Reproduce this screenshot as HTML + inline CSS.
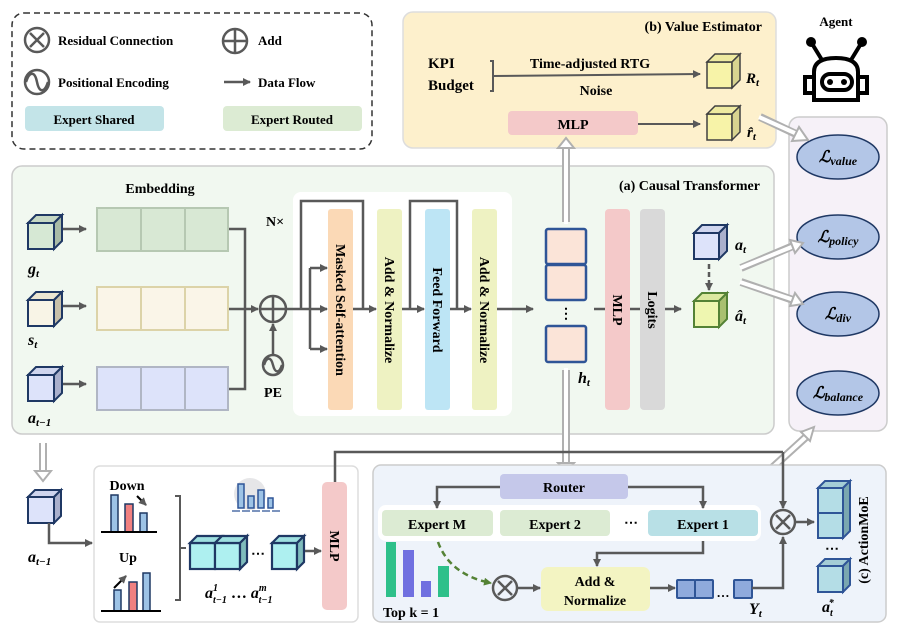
<!DOCTYPE html>
<html><head><meta charset="utf-8"><style>
body{margin:0;background:#fff}
svg{display:block;font-family:"Liberation Serif",serif;font-weight:bold}
</style></head><body>
<svg width="897" height="633" viewBox="0 0 897 633" xmlns="http://www.w3.org/2000/svg">
<defs>
<marker id="ah" markerWidth="8" markerHeight="8" refX="7" refY="4" orient="auto" markerUnits="userSpaceOnUse"><path d="M0,0 L8,4 L0,8 z" fill="#595959"/></marker>
<marker id="ahg" markerWidth="8" markerHeight="8" refX="7" refY="4" orient="auto" markerUnits="userSpaceOnUse"><path d="M0,0 L8,4 L0,8 z" fill="#548235"/></marker>
</defs>
<g font-size="13">
<!-- Legend -->
<rect x="12" y="13" width="360" height="136" rx="12" fill="none" stroke="#333" stroke-width="1.5" stroke-dasharray="6,4"/>
<circle cx="37" cy="40" r="12" fill="none" stroke="#595959" stroke-width="2.5"/><path d="M30,33 L44,47 M44,33 L30,47" stroke="#595959" stroke-width="2.5"/>
<text x="58" y="45">Residual Connection</text>
<circle cx="235" cy="41" r="12" fill="none" stroke="#595959" stroke-width="2.5"/><path d="M223,41 H247 M235,29 V53" stroke="#595959" stroke-width="2.5"/>
<text x="258" y="45">Add</text>
<circle cx="37" cy="82" r="12" fill="none" stroke="#595959" stroke-width="2.5"/><path d="M26,82 C30,70 35,72 37,82 C39,92 44,94 48,82" fill="none" stroke="#595959" stroke-width="2.5"/>
<text x="58" y="87">Positional Encoding</text>
<line x1="224" y1="82" x2="250" y2="82" stroke="#595959" stroke-width="2.5" marker-end="url(#ah)"/>
<text x="258" y="87">Data Flow</text>
<rect x="25" y="106" width="139" height="25" rx="4" fill="#c3e4e8"/><text x="94" y="124" text-anchor="middle">Expert Shared</text>
<rect x="223" y="106" width="139" height="25" rx="4" fill="#dcebd3"/><text x="292" y="124" text-anchor="middle">Expert Routed</text>

<!-- Value estimator -->
<rect x="403" y="12" width="373" height="136" rx="10" fill="#fdf0cc" stroke="#ddd" stroke-width="1.5"/>
<text x="762" y="31" text-anchor="end" font-size="14">(b) Value Estimator</text>
<text x="428" y="68" font-size="15">KPI</text><text x="428" y="90" font-size="15">Budget</text>
<path d="M490,61 H493 V91 H490" fill="none" stroke="#595959" stroke-width="2"/>
<line x1="493" y1="76" x2="700" y2="74" stroke="#595959" stroke-width="2" marker-end="url(#ah)"/>
<text x="590" y="68" text-anchor="middle" font-size="14">Time-adjusted RTG</text>
<text x="596" y="95" text-anchor="middle" font-size="14">Noise</text>
<g transform="translate(707,54)" stroke="#404040" stroke-width="1.5" fill="#f7f3a8"><rect x="0" y="8" width="25" height="26"/><path d="M0,8 L8,0 L33,0 L25,8z" fill="#eeeaa0"/><path d="M25,8 L33,0 L33,26 L25,34z" fill="#d8d490"/></g>
<text x="746" y="83" font-style="italic" font-size="15">R<tspan font-size="11" dy="3">t</tspan></text>
<rect x="508" y="111" width="130" height="24" rx="4" fill="#f4c9c9"/><text x="573" y="129" text-anchor="middle" font-size="14">MLP</text>
<line x1="638" y1="124" x2="700" y2="124" stroke="#595959" stroke-width="2" marker-end="url(#ah)"/>
<g transform="translate(707,106)" stroke="#404040" stroke-width="1.5" fill="#f7f3a8"><rect x="0" y="8" width="25" height="26"/><path d="M0,8 L8,0 L33,0 L25,8z" fill="#eeeaa0"/><path d="M25,8 L33,0 L33,26 L25,34z" fill="#d8d490"/></g>
<text x="747" y="137" font-style="italic" font-size="15">r̂<tspan font-size="11" dy="3">t</tspan></text>

<!-- Agent -->
<text x="836" y="26" text-anchor="middle" font-size="13">Agent</text>
<g fill="none" stroke="#000" stroke-width="4">
<circle cx="811" cy="42" r="3" fill="#000"/><circle cx="862" cy="42" r="3" fill="#000"/>
<path d="M811,42 L822,60 M862,42 L851,60"/>
<path d="M814,100 V72 Q814,58 836,58 Q858,58 858,72 V100 Z"/>
<rect x="805" y="77" width="9" height="16"/><rect x="858" y="77" width="9" height="16"/>
<rect x="822" y="74" width="30" height="16" rx="8"/>
</g>
<circle cx="830" cy="82" r="3" fill="#000"/><circle cx="844" cy="82" r="3" fill="#000"/>

<!-- Loss panel -->
<rect x="789" y="117" width="98" height="314" rx="10" fill="#f6f1f8" stroke="#ccc" stroke-width="1.5"/>
<g fill="#b3c6e7" stroke="#1f3864" stroke-width="1.5">
<ellipse cx="838" cy="157" rx="41" ry="22"/><ellipse cx="838" cy="237" rx="41" ry="22"/><ellipse cx="838" cy="314" rx="41" ry="22"/><ellipse cx="838" cy="393" rx="41" ry="22"/></g>
<g font-style="italic" font-size="16" text-anchor="middle">
<text x="838" y="162">ℒ<tspan font-size="12" dy="3">value</tspan></text>
<text x="838" y="242">ℒ<tspan font-size="12" dy="3">policy</tspan></text>
<text x="838" y="319">ℒ<tspan font-size="12" dy="3">div</tspan></text>
<text x="838" y="398">ℒ<tspan font-size="12" dy="3">balance</tspan></text>
</g>

<!-- Causal transformer panel -->
<rect x="12" y="166" width="762" height="268" rx="10" fill="#f1f8f0" stroke="#ccc" stroke-width="1.5"/>
<text x="160" y="193" text-anchor="middle" font-size="14">Embedding</text>
<text x="760" y="190" text-anchor="end" font-size="14">(a) Causal  Transformer</text>
<text x="275" y="226" text-anchor="middle" font-size="14">N×</text>
<!-- input cubes -->
<g stroke="#1f3864" stroke-width="2">
<g transform="translate(28,215)"><rect x="0" y="8" width="26" height="26" fill="#d6e8d4"/><path d="M0,8 L8,0 L34,0 L26,8z" fill="#c6d8c4"/><path d="M26,8 L34,0 L34,26 L26,34z" fill="#a9bba7"/></g>
<g transform="translate(28,292)"><rect x="0" y="8" width="26" height="26" fill="#f8f4e6"/><path d="M0,8 L8,0 L34,0 L26,8z" fill="#ece6d2"/><path d="M26,8 L34,0 L34,26 L26,34z" fill="#c8c0aa"/></g>
<g transform="translate(28,367)"><rect x="0" y="8" width="26" height="26" fill="#dde3fa"/><path d="M0,8 L8,0 L34,0 L26,8z" fill="#cfd5ee"/><path d="M26,8 L34,0 L34,26 L26,34z" fill="#aab0cc"/></g>
</g>
<g stroke="#595959" stroke-width="2.5">
<line x1="63" y1="229" x2="86" y2="229" marker-end="url(#ah)"/>
<line x1="63" y1="306" x2="86" y2="306" marker-end="url(#ah)"/>
<line x1="63" y1="384" x2="86" y2="384" marker-end="url(#ah)"/>
</g>
<g font-style="italic" font-size="16"><text x="28" y="274">g<tspan font-size="11" dy="3">t</tspan></text><text x="28" y="345">s<tspan font-size="11" dy="3">t</tspan></text><text x="28" y="423">a<tspan font-size="11" dy="3">t−1</tspan></text></g>
<!-- embedding rows -->
<g stroke-width="2">
<g stroke="#b6c8b2" fill="#d8e8d4"><rect x="97" y="208" width="44" height="43"/><rect x="141" y="208" width="44" height="43"/><rect x="185" y="208" width="43" height="43"/></g>
<g stroke="#dcd3a8" fill="#faf5e8"><rect x="97" y="287" width="44" height="43"/><rect x="141" y="287" width="44" height="43"/><rect x="185" y="287" width="43" height="43"/></g>
<g stroke="#b0b6c4" fill="#dde3fa"><rect x="97" y="367" width="44" height="43"/><rect x="141" y="367" width="44" height="43"/><rect x="185" y="367" width="43" height="43"/></g>
</g>
<g fill="none" stroke="#595959" stroke-width="2.5">
<path d="M229,229 H245 V389 H229"/>
<line x1="229" y1="309" x2="258" y2="309" marker-end="url(#ah)"/>
<circle cx="273" cy="309" r="13"/><path d="M260,309 H286 M273,296 V322"/>
<line x1="273" y1="355" x2="273" y2="324" marker-end="url(#ah)"/>
<circle cx="273" cy="365" r="10"/><path d="M264,365 C267,356 271,357 273,365 C275,373 279,374 282,365"/>
</g>
<text x="273" y="397" text-anchor="middle" font-size="14">PE</text>
<!-- white block -->
<rect x="293" y="192" width="219" height="224" rx="8" fill="#fff"/>
<rect x="328" y="209" width="25" height="201" rx="3" fill="#fbd9b6"/>
<rect x="377" y="209" width="25" height="201" rx="3" fill="#eef2c2"/>
<rect x="425" y="209" width="25" height="201" rx="3" fill="#bde5f5"/>
<rect x="472" y="209" width="25" height="201" rx="3" fill="#eef2c2"/>
<g font-size="14">
<text transform="translate(336,310) rotate(90)" text-anchor="middle">Masked Self-attention</text>
<text transform="translate(385,310) rotate(90)" text-anchor="middle">Add &amp; Normalize</text>
<text transform="translate(433,310) rotate(90)" text-anchor="middle">Feed Forward</text>
<text transform="translate(480,310) rotate(90)" text-anchor="middle">Add &amp; Normalize</text>
</g>
<g fill="none" stroke="#595959" stroke-width="2.5">
<line x1="286" y1="309" x2="327" y2="309" marker-end="url(#ah)"/>
<path d="M310,349 V268"/>
<line x1="310" y1="268" x2="327" y2="268" marker-end="url(#ah)"/>
<line x1="310" y1="349" x2="327" y2="349" marker-end="url(#ah)"/>
<path d="M301,309 V201 H363 V309"/>
<line x1="353" y1="309" x2="376" y2="309" marker-end="url(#ah)"/>
<path d="M410,309 V201 H457 V309"/>
<line x1="402" y1="309" x2="424" y2="309" marker-end="url(#ah)"/>
<line x1="450" y1="309" x2="471" y2="309" marker-end="url(#ah)"/>
<line x1="497" y1="309" x2="533" y2="309" marker-end="url(#ah)"/>
</g>
<!-- h_t -->
<g fill="#fbe4d8" stroke="#2f5597" stroke-width="2.5">
<rect x="546" y="229" width="40" height="35" rx="2"/><rect x="546" y="265" width="40" height="35" rx="2"/><rect x="546" y="326" width="40" height="36" rx="2"/></g>
<text x="566" y="318" text-anchor="middle" font-size="14">⋮</text>
<text x="578" y="383" font-style="italic" font-size="16">h<tspan font-size="11" dy="3">t</tspan></text>
<!-- hollow arrows verticals -->
<g fill="none" stroke="#b0b0b0" stroke-width="8"><line x1="566" y1="222" x2="566" y2="148"/><line x1="566" y1="370" x2="566" y2="465"/></g>
<g fill="none" stroke="#fff" stroke-width="4"><line x1="566" y1="224" x2="566" y2="146"/><line x1="566" y1="368" x2="566" y2="464"/></g>
<path d="M558,148 L566,138 L574,148 z" fill="#fff" stroke="#b0b0b0" stroke-width="2"/>
<path d="M558,463 L566,472 L574,463 z" fill="#fff" stroke="#b0b0b0" stroke-width="2"/>
<rect x="605" y="209" width="25" height="201" rx="4" fill="#f4c9c9"/>
<rect x="640" y="209" width="25" height="201" rx="4" fill="#d9d9d9"/>
<g stroke="#595959" stroke-width="2.5"><line x1="594" y1="309" x2="605" y2="309"/><line x1="630" y1="309" x2="640" y2="309"/><line x1="665" y1="309" x2="681" y2="309" marker-end="url(#ah)"/></g>
<text transform="translate(613,310) rotate(90)" text-anchor="middle" font-size="14">MLP</text>
<text transform="translate(648,310) rotate(90)" text-anchor="middle" font-size="14">Logits</text>
<g transform="translate(694,225)" stroke="#1f3864" stroke-width="2"><rect x="0" y="8" width="25" height="26" fill="#dde3fa"/><path d="M0,8 L8,0 L33,0 L25,8z" fill="#cfd5ee"/><path d="M25,8 L33,0 L33,26 L25,34z" fill="#aab0cc"/></g>
<line x1="709" y1="264" x2="709" y2="290" stroke="#595959" stroke-width="2.5" stroke-dasharray="5,3" marker-end="url(#ah)"/>
<g transform="translate(694,293)" stroke="#548235" stroke-width="2"><rect x="0" y="8" width="25" height="26" fill="#eef6b0"/><path d="M0,8 L8,0 L33,0 L25,8z" fill="#dce8a0"/><path d="M25,8 L33,0 L33,26 L25,34z" fill="#a9c070"/></g>
<g font-style="italic" font-size="16"><text x="735" y="250">a<tspan font-size="11" dy="3">t</tspan></text><text x="735" y="321">â<tspan font-size="11" dy="3">t</tspan></text></g>
<!-- hollow diagonal arrows to losses -->
<g fill="none" stroke="#b0b0b0" stroke-width="8" stroke-linecap="butt"><path d="M741,268 L793,246"/><path d="M741,282 L793,300"/><path d="M740,497 L806,437"/><path d="M760,117 L796,134"/></g>
<g fill="none" stroke="#fff" stroke-width="4"><path d="M740,268 L794,246"/><path d="M740,282 L794,300"/><path d="M739,498 L807,436"/><path d="M759,117 L797,134"/></g>
<path d="M790,240 L803,243 L795,253 z" fill="#fff" stroke="#b0b0b0" stroke-width="2"/>
<path d="M795,293 L803,304 L790,306 z" fill="#fff" stroke="#b0b0b0" stroke-width="2"/>
<path d="M801,432 L814,427 L810,441 z" fill="#fff" stroke="#b0b0b0" stroke-width="2"/>
<path d="M799,127 L808,140 L792,141 z" fill="#fff" stroke="#b0b0b0" stroke-width="2"/>

<!-- bottom left -->
<g fill="none" stroke="#b0b0b0" stroke-width="8"><line x1="43" y1="443" x2="43" y2="472"/></g>
<g fill="none" stroke="#fff" stroke-width="4"><line x1="43" y1="441" x2="43" y2="473"/></g>
<path d="M35,471 L43,481 L51,471 z" fill="#fff" stroke="#b0b0b0" stroke-width="2"/>
<g transform="translate(28,490)" stroke="#1f3864" stroke-width="2"><rect x="0" y="7" width="26" height="26" fill="#dde3fa"/><path d="M0,7 L7,0 L33,0 L26,7z" fill="#cfd5ee"/><path d="M26,7 L33,0 L33,26 L26,33z" fill="#aab0cc"/></g>
<path d="M49,523 V543 H92" fill="none" stroke="#595959" stroke-width="2.5" marker-end="url(#ah)"/>
<text x="28" y="562" font-style="italic" font-size="16">a<tspan font-size="11" dy="3">t−1</tspan></text>
<rect x="94" y="466" width="264" height="156" rx="6" fill="#fff" stroke="#ddd" stroke-width="1.5"/>
<text x="127" y="490" text-anchor="middle" font-size="14">Down</text>
<text x="128" y="562" text-anchor="middle" font-size="14">Up</text>
<g stroke="#1f3864" stroke-width="1.5">
<rect x="111" y="495" width="7" height="37" fill="#9dc3e6"/><rect x="125" y="504" width="8" height="28" fill="#f08080"/><rect x="140" y="513" width="7" height="19" fill="#9dc3e6"/>
<rect x="114" y="590" width="7" height="21" fill="#9dc3e6"/><rect x="129" y="582" width="8" height="29" fill="#f08080"/><rect x="143" y="573" width="7" height="38" fill="#9dc3e6"/>
</g>
<g stroke="#000" stroke-width="2" fill="none">
<line x1="101" y1="532" x2="157" y2="532"/><line x1="101" y1="611" x2="161" y2="611"/>
<line x1="137" y1="496" x2="146" y2="505" marker-end="url(#ah)"/>
<line x1="114" y1="588" x2="126" y2="576" marker-end="url(#ah)"/>
</g>
<path d="M175,496 H180 V600 H175 M180,548 H186" fill="none" stroke="#595959" stroke-width="2"/>
<circle cx="250" cy="494" r="16" fill="#e6e6e8"/>
<g stroke="#2f5597" stroke-width="1.5" fill="#9dc3e6"><rect x="238" y="484" width="6" height="24"/><rect x="248" y="496" width="6" height="12"/><rect x="258" y="490" width="6" height="18"/><rect x="268" y="498" width="5" height="10"/></g>
<line x1="232" y1="511" x2="280" y2="511" stroke="#2f5597" stroke-width="1.2" stroke-dasharray="8,2"/>
<g stroke="#1f3864" stroke-width="2.2">
<g transform="translate(190,536)"><rect x="0" y="7" width="25" height="26" fill="#aef0f0"/><path d="M0,7 L7,0 L32,0 L25,7z" fill="#9ee0e0"/></g>
<g transform="translate(215,536)"><rect x="0" y="7" width="25" height="26" fill="#aef0f0"/><path d="M0,7 L7,0 L32,0 L25,7z" fill="#9ee0e0"/><path d="M25,7 L32,0 L32,26 L25,33z" fill="#7fbcbc"/></g>
<g transform="translate(272,536)"><rect x="0" y="7" width="25" height="26" fill="#aef0f0"/><path d="M0,7 L7,0 L32,0 L25,7z" fill="#9ee0e0"/><path d="M25,7 L32,0 L32,26 L25,33z" fill="#7fbcbc"/></g>
</g>
<text x="258" y="558" text-anchor="middle" font-size="14">⋯</text>
<line x1="305" y1="551" x2="321" y2="551" stroke="#595959" stroke-width="2.5" marker-end="url(#ah)"/>
<text x="205" y="598" font-style="italic" font-size="16">a<tspan font-size="10" dy="-7">1</tspan><tspan font-size="10" dy="12" dx="-5">t−1</tspan><tspan dy="-5" font-style="normal"> … </tspan>a<tspan font-size="10" dy="-7">m</tspan><tspan font-size="10" dy="12" dx="-8">t−1</tspan></text>
<rect x="322" y="482" width="25" height="128" rx="5" fill="#f4c9c9"/>
<text transform="translate(330,546) rotate(90)" text-anchor="middle" font-size="14">MLP</text>
<path d="M335,482 V452 H783" fill="none" stroke="#595959" stroke-width="2.5"/>

<!-- ActionMoE -->
<rect x="373" y="465" width="513" height="157" rx="8" fill="#eef3fa" stroke="#ccc" stroke-width="1.5"/>
<rect x="378" y="505" width="383" height="36" rx="8" fill="#fff"/>
<rect x="500" y="474" width="128" height="25" rx="4" fill="#c5c8ea"/><text x="564" y="492" text-anchor="middle" font-size="14">Router</text>
<g fill="none" stroke="#595959" stroke-width="2.5">
<path d="M500,487 H437 V508" marker-end="url(#ah)"/>
<path d="M628,487 H703 V508" marker-end="url(#ah)"/>
</g>
<rect x="382" y="510" width="111" height="26" rx="4" fill="#dcebd3"/><text x="437" y="529" text-anchor="middle" font-size="14">Expert M</text>
<rect x="500" y="510" width="110" height="26" rx="4" fill="#dcebd3"/><text x="555" y="529" text-anchor="middle" font-size="14">Expert 2</text>
<text x="631" y="527" text-anchor="middle" font-size="14">⋯</text>
<rect x="648" y="510" width="110" height="26" rx="4" fill="#b8e0e6"/><text x="703" y="529" text-anchor="middle" font-size="14">Expert 1</text>
<path d="M703,541 V553 H597 V566" fill="none" stroke="#595959" stroke-width="2.5" marker-end="url(#ah)"/>
<rect x="541" y="567" width="109" height="44" rx="7" fill="#f3f4c2"/>
<text x="595" y="586" text-anchor="middle" font-size="14">Add &amp;</text><text x="595" y="605" text-anchor="middle" font-size="14">Normalize</text>
<circle cx="505" cy="588" r="12" fill="none" stroke="#595959" stroke-width="2.5"/><path d="M498,581 L512,595 M512,581 L498,595" stroke="#595959" stroke-width="2.5"/>
<line x1="517" y1="588" x2="540" y2="588" stroke="#595959" stroke-width="2.5" marker-end="url(#ah)"/>
<path d="M438,542 Q450,575 491,583" fill="none" stroke="#548235" stroke-width="2.5" stroke-dasharray="6,4" marker-end="url(#ahg)"/>
<rect x="386" y="542" width="10" height="55" fill="#2ec08a"/><rect x="403" y="550" width="11" height="47" fill="#7070e0"/><rect x="421" y="581" width="10" height="16" fill="#7070e0"/><rect x="438" y="566" width="11" height="31" fill="#2ec08a"/>
<text x="383" y="617" font-size="14">Top k = 1</text>
<line x1="650" y1="588" x2="675" y2="588" stroke="#595959" stroke-width="2.5" marker-end="url(#ah)"/>
<g fill="#8faadc" stroke="#2f5597" stroke-width="2"><rect x="677" y="580" width="18" height="18" rx="1"/><rect x="695" y="580" width="18" height="18" rx="1"/><rect x="734" y="580" width="18" height="18" rx="1"/></g>
<text x="723" y="597" text-anchor="middle" font-size="13">…</text>
<text x="749" y="614" font-style="italic" font-size="16">Y<tspan font-size="11" dy="3">t</tspan></text>
<path d="M752,588 H783 V537" fill="none" stroke="#595959" stroke-width="2.5" marker-end="url(#ah)"/>
<line x1="783" y1="452" x2="783" y2="508" stroke="#595959" stroke-width="2.5" marker-end="url(#ah)"/>
<circle cx="783" cy="522" r="12" fill="none" stroke="#595959" stroke-width="2.5"/><path d="M776,515 L790,529 M790,515 L776,529" stroke="#595959" stroke-width="2.5"/>
<line x1="795" y1="522" x2="814" y2="522" stroke="#595959" stroke-width="2.5" marker-end="url(#ah)"/>
<g stroke="#2f5597" stroke-width="2">
<g transform="translate(818,481)"><rect x="0" y="7" width="25" height="25" fill="#b4dde6"/><rect x="0" y="32" width="25" height="25" fill="#b4dde6"/><path d="M0,7 L7,0 L32,0 L25,7z" fill="#a4cdd6"/><path d="M25,7 L32,0 L32,50 L25,57z" fill="#7aa7b0"/></g>
<g transform="translate(818,559)"><rect x="0" y="7" width="25" height="26" fill="#b4dde6"/><path d="M0,7 L7,0 L32,0 L25,7z" fill="#a4cdd6"/><path d="M25,7 L32,0 L32,26 L25,33z" fill="#7aa7b0"/></g>
</g>
<text x="832" y="553" text-anchor="middle" font-size="14">⋯</text>
<text x="822" y="612" font-style="italic" font-size="16">a<tspan font-size="10" dy="4">t</tspan><tspan font-size="10" dy="-10" dx="-4">*</tspan></text>
<text transform="translate(868,540) rotate(-90)" text-anchor="middle" font-size="14">(c) ActionMoE</text>
</g>
</svg>
</body></html>
